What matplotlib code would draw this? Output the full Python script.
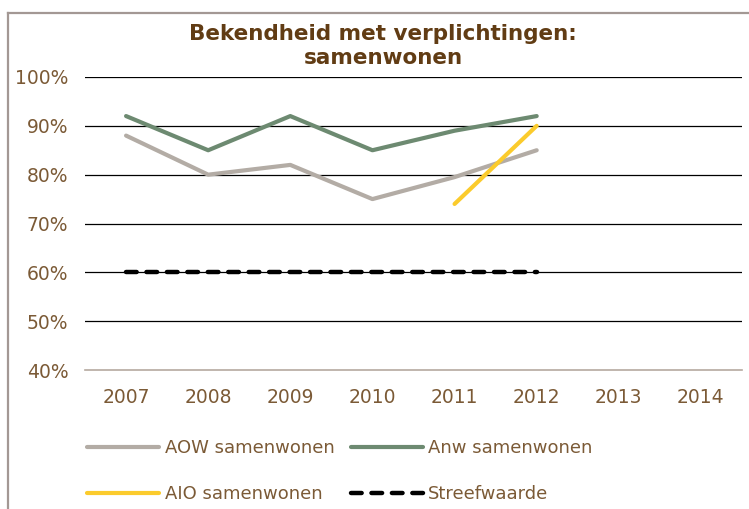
import matplotlib
matplotlib.use("Agg")
import matplotlib.pyplot as plt
from matplotlib.lines import Line2D
from matplotlib.ticker import FuncFormatter

years = ["2007", "2008", "2009", "2010", "2011", "2012", "2013", "2014"]
aow = [0.88, 0.80, 0.82, 0.75, 0.795, 0.85]
anw = [0.92, 0.85, 0.92, 0.85, 0.89, 0.92]
aio_years = ["2011", "2012"]
aio = [0.74, 0.90]
streef = [0.60, 0.60, 0.60, 0.60, 0.60, 0.60]

TEXT = "#7b5a36"
TITLE = "#613c14"
C_AOW = "#b3aca5"
C_ANW = "#6d8a71"
C_AIO = "#fbcb2c"
FRAME = "#a39894"

plt.rcParams["font.family"] = ["DejaVu Sans"]

fig = plt.figure(figsize=(7.49, 5.09), dpi=100)
W, H = 749, 509
ax = fig.add_axes([85 / W, 1 - 370 / H, (742 - 85) / W, (370 - 77) / H])

x = list(range(len(years)))
xi = {y: i for i, y in enumerate(years)}

l_aow, = ax.plot(x[:len(aow)], aow, color=C_AOW, lw=3, solid_capstyle="round", zorder=3)
l_anw, = ax.plot(x[:len(anw)], anw, color=C_ANW, lw=3, solid_capstyle="round", zorder=3)
l_aio, = ax.plot([xi[y] for y in aio_years], aio, color=C_AIO, lw=3,
                 solid_capstyle="round", zorder=4)
l_str, = ax.plot(x[:len(streef)], streef, color="black", lw=3.2,
                 dashes=(2.4, 2.2), dash_capstyle="round", zorder=3)

ax.set_xlim(-0.5, len(years) - 0.5)
ax.set_ylim(0.40, 1.00)
ax.set_xticks(x)
ax.set_xticklabels(years)
ax.set_yticks([0.4, 0.5, 0.6, 0.7, 0.8, 0.9, 1.0])
ax.yaxis.set_major_formatter(FuncFormatter(lambda v, p: f"{round(v * 100)}%"))
ax.tick_params(length=0, labelsize=13.5, colors=TEXT)
ax.tick_params(axis="y", pad=12)
ax.tick_params(axis="x", pad=13)

for v in [0.5, 0.6, 0.7, 0.8, 0.9, 1.0]:
    ax.axhline(v, color="black", lw=0.9, zorder=1)
for s in ["top", "right", "left"]:
    ax.spines[s].set_visible(False)
ax.spines["bottom"].set_color("#b5a99f")
ax.spines["bottom"].set_linewidth(1.2)

fig.text(383 / W, 1 - 46 / H, "Bekendheid met verplichtingen:\nsamenwonen",
         ha="center", va="center", fontsize=15.5, fontweight="bold",
         color=TITLE, linespacing=1.3)

leg = fig.legend([l_aow, l_aio, l_anw, l_str],
                 ["AOW samenwonen", "AIO samenwonen", "Anw samenwonen", "Streefwaarde"],
                 ncol=2, loc="upper left", bbox_to_anchor=(78 / W, 1 - 430 / H),
                 frameon=False, fontsize=13, handlelength=4.0, handletextpad=0.3,
                 columnspacing=0.9, labelspacing=1.55, borderpad=0)
for t in leg.get_texts():
    t.set_color(TEXT)

# outer frame (top and left edges)
fig.add_artist(Line2D([8 / W, 8 / W], [1 - 13 / H, 0], transform=fig.transFigure,
                      color=FRAME, lw=1.6))
fig.add_artist(Line2D([8 / W, 1], [1 - 13 / H, 1 - 13 / H], transform=fig.transFigure,
                      color=FRAME, lw=1.6))

fig.savefig("out.png", dpi=100)
